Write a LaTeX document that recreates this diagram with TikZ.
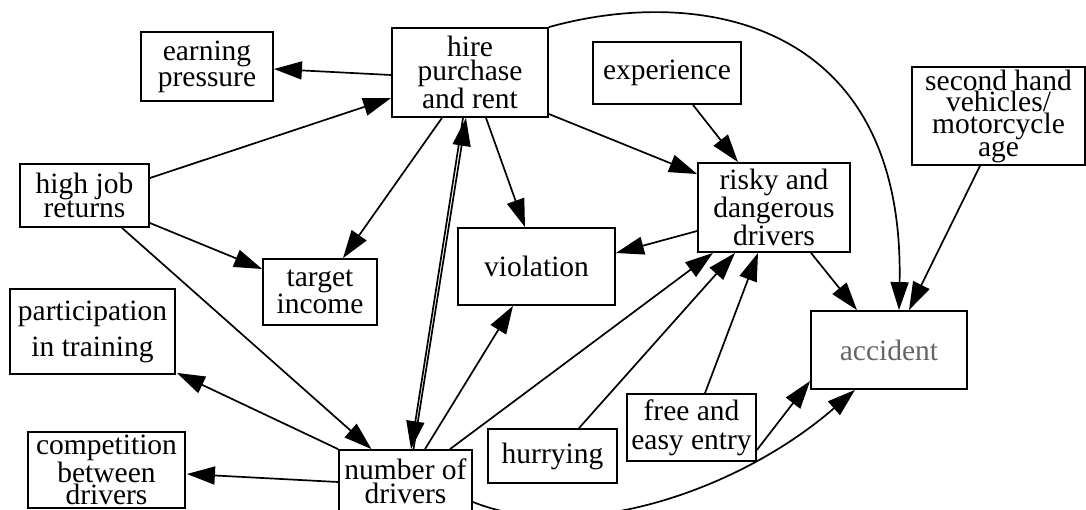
\documentclass[tikz,border=0pt]{standalone}
\usepackage{fontspec}
\setmainfont{Liberation Serif}
\usetikzlibrary{arrows.meta}
\begin{document}
\begin{tikzpicture}[x=1pt,y=-1pt,
  box/.style={draw, line width=1.8pt, inner sep=0pt, align=center,
              font=\fontsize{29.5}{24.5}\selectfont},
  link/.style={line width=1.7pt, -{Triangle[length=28pt,width=18pt]}},
]
\useasboundingbox (0,0) rectangle (1086,509);
\fill[white] (0,0) rectangle (1086,509);

% boxes
\node[box, minimum width=132pt, minimum height=69pt, font=\fontsize{29.5}{26}\selectfont]
  (earn) at (207,66.5) {earning\\pressure};
\node[box, minimum width=156pt, minimum height=89pt]
  (hire) at (470,72.5) {hire\\purchase\\and rent};
\node[box, minimum width=148pt, minimum height=62pt]
  (exper) at (667,73) {experience};
\node[box, minimum width=173pt, minimum height=98pt, font=\fontsize{29.5}{18.5}\selectfont]
  (second) at (998.5,116) {second hand\\vehicles/\\motorcycle\\age};
\node[box, minimum width=129pt, minimum height=63pt]
  (high) at (84.5,195.5) {high job\\returns};
\node[box, minimum width=114pt, minimum height=66pt]
  (target) at (320,292) {target\\income};
\node[box, minimum width=157pt, minimum height=77pt]
  (viol) at (536.5,266.5) {violation};
\node[box, minimum width=152pt, minimum height=89pt]
  (risky) at (774,207.5) {risky and\\dangerous\\drivers};
\node[box, minimum width=156pt, minimum height=78pt, text=black!60]
  (acc) at (889,350) {accident};
\node[box, minimum width=165pt, minimum height=85pt, font=\fontsize{29.5}{36}\selectfont]
  (part) at (92.5,331.5) {participation\\in training};
\node[box, minimum width=157pt, minimum height=76pt, font=\fontsize{29.5}{20}\selectfont]
  (comp) at (106.5,470) {competition\\between\\drivers};
\node[box, minimum width=133pt, minimum height=62pt]
  (num) at (405.5,481) {number of\\drivers};
\node[box, minimum width=129pt, minimum height=54pt]
  (hurry) at (552.5,456) {hurrying};
\node[box, minimum width=129pt, minimum height=67pt, font=\fontsize{29.5}{29}\selectfont]
  (free) at (691.5,427.5) {free and\\easy entry};

% connectors
\draw[link] ([yshift=-2.5pt]hire.west) -- ([yshift=-2.5pt]earn.east);
\draw[link] ([yshift=17.5pt]high.east) -- ([yshift=-25.5pt]hire.west);
\draw[link] ([yshift=-27.5pt]high.east) -- ([yshift=23pt]target.west);
\draw[link] ([xshift=37.5pt]high.south) -- ([xshift=-34pt]num.north);
\draw[link] ([xshift=-28pt]hire.south) -- ([xshift=23pt]target.north);
\draw[link] ([xshift=-7pt]hire.south) -- ([xshift=5.5pt]num.north);
\draw[link] ([xshift=8pt]num.north) -- ([xshift=-4pt]hire.south);
\draw[link] ([xshift=16pt]hire.south) -- ([xshift=-11.5pt]viol.north);
\draw[link] ([yshift=-41.5pt]hire.east) -- ([yshift=33.5pt]risky.west);
\draw[link] ([xshift=26pt]exper.south) -- ([xshift=-36pt]risky.north);
\draw[link] (hire.north east) .. controls (700,-15) and (905,20) .. ([xshift=10pt]acc.north);
\draw[link] ([xshift=-18.5pt]second.south) -- ([xshift=20pt]acc.north);
\draw[link] ([xshift=37pt]risky.south) -- ([xshift=-32pt]acc.north);
\draw[link] ([yshift=-23.5pt]risky.west) -- ([yshift=13.5pt]viol.east);
\draw[link] ([xshift=44.5pt]num.north) -- ([xshift=-61pt]risky.south);
\draw[link] ([xshift=19.5pt]num.north) -- ([xshift=-23.5pt]viol.south);
\draw[link] ([xshift=26.5pt]hurry.north) -- ([xshift=-39pt]risky.south);
\draw[link] ([xshift=13.5pt]free.north) -- ([xshift=-16pt]risky.south);
\draw[link] ([yshift=-22.5pt]free.east) -- ([yshift=-31pt]acc.west);
\draw[link] ([yshift=-21pt]num.east) .. controls (580,545) and (740,490) .. ([xshift=-34pt]acc.south);
\draw[link] (num.north west) -- ([yshift=2pt,xshift=1pt]part.south east);
\draw[link] ([yshift=-1pt]num.west) -- ([yshift=-4pt,xshift=1pt]comp.east);
\end{tikzpicture}
\end{document}
